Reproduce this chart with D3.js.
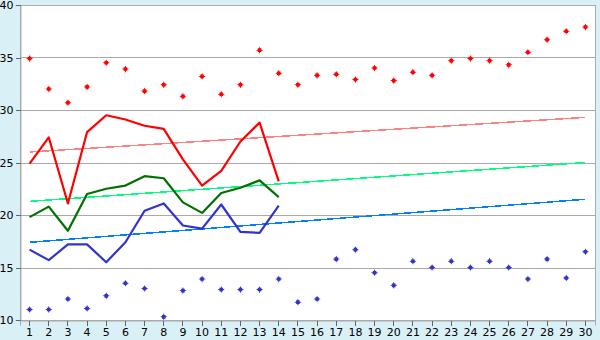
<!DOCTYPE html>
<html>
<head>
<meta charset="utf-8">
<script src="https://cdn.jsdelivr.net/npm/d3@7"></script>
<style>
body { margin: 0; background: #d9f0f7; }
svg { display: block; }
.tick text { font-family: "DejaVu Sans", Verdana, sans-serif; font-size: 11px; fill: #000; }
</style>
</head>
<body>
<svg class="chart"></svg>
<script>
var WIDTH = 600, HEIGHT = 340;
var days = d3.range(1, 31);
var yTicks = [10, 15, 20, 25, 30, 35, 40];

var maxDots = [34.9, 32.0, 30.7, 32.2, 34.5, 33.9, 31.8, 32.4, 31.3, 33.2, 31.5, 32.4, 35.7, 33.5, 32.4,
	33.3, 33.4, 32.9, 34.0, 32.8, 33.6, 33.3, 34.7, 34.9, 34.7, 34.3, 35.5, 36.7, 37.5, 37.9];
var minDots = [11.0, 11.0, 12.0, 11.1, 12.3, 13.5, 13.0, 10.3, 12.8, 13.9, 12.9, 12.9, 12.9, 13.9, 11.7,
	12.0, 15.8, 16.7, 14.5, 13.3, 15.6, 15.0, 15.6, 15.0, 15.6, 15.0, 13.9, 15.8, 14.0, 16.5];
var maxLine = [24.9, 27.4, 21.1, 27.9, 29.5, 29.1, 28.5, 28.2, 25.3, 22.8, 24.2, 27.0, 28.8, 23.2];
var meanLine = [19.8, 20.8, 18.5, 22.0, 22.5, 22.8, 23.7, 23.5, 21.2, 20.2, 22.1, 22.6, 23.3, 21.7];
var minLine = [16.7, 15.7, 17.2, 17.2, 15.5, 17.4, 20.4, 21.1, 19.0, 18.7, 21.0, 18.4, 18.3, 20.9];
var maxTrend = [26.0, 29.3];
var meanTrend = [21.3, 25.0];
var minTrend = [17.4, 21.5];

var svg = d3.select(".chart").attr("width", WIDTH).attr("height", HEIGHT);

var x = d3.scaleBand().domain(days).range([20, 595]);
var y = d3.scaleLinear().domain([10, 40]).range([320, 5]);
var cx = d => x(d) + x.bandwidth() / 2;

svg.append("rect").attr("x", 20).attr("y", 5).attr("width", 575).attr("height", 315)
	.attr("fill", "#fff").attr("stroke", "#aaa").attr("stroke-width", 1).attr("shape-rendering", "crispEdges");

// grid
svg.append("g").selectAll("line").data(yTicks).enter().append("line")
	.attr("x1", 20).attr("x2", 595).attr("y1", d => Math.round(y(d)) + 0.5).attr("y2", d => Math.round(y(d)) + 0.5)
	.attr("stroke", "#aaa").attr("shape-rendering", "crispEdges");

var yAxis = svg.append("g").attr("transform", "translate(20.5,0)")
	.call(d3.axisLeft(y).tickValues(yTicks).tickSize(5).tickPadding(2));
var xAxis = svg.append("g").attr("transform", "translate(0,320.5)")
	.call(d3.axisBottom(x).tickSize(5).tickPadding(3));
[yAxis, xAxis].forEach(a => {
	a.select(".domain").attr("stroke", "#aaa");
	a.selectAll(".tick line").attr("stroke", "#666").attr("shape-rendering", "crispEdges");
});

// trend lines
var trends = [[maxTrend, "#ff8080"], [meanTrend, "#00ff80"], [minTrend, "#0080ff"]];
trends.forEach(t => {
	svg.append("line").attr("x1", cx(1)).attr("x2", cx(30))
		.attr("y1", y(t[0][0])).attr("y2", y(t[0][1]))
		.attr("stroke", t[1]).attr("stroke-width", 1.5).attr("shape-rendering", "crispEdges");
});

var line = d3.line().x((d, i) => cx(days[i])).y(d => y(d));
[[maxLine, "#ff0000"], [meanLine, "#007000"], [minLine, "#3333cc"]].forEach(s => {
	svg.append("path").attr("d", line(s[0])).attr("fill", "none")
		.attr("stroke", s[1]).attr("stroke-width", 2.2).attr("stroke-linejoin", "round");
});

var plus = "M0,-3.6L1,-1L3.6,0L1,1L0,3.6L-1,1L-3.6,0L-1,-1Z M-1.8,-1.8h3.6v3.6h-3.6z";
[[maxDots, "#ff0000"], [minDots, "#3333cc"]].forEach(s => {
	svg.append("g").selectAll("path").data(s[0]).enter().append("path")
		.attr("d", plus).attr("fill", s[1])
		.attr("transform", (d, i) => "translate(" + cx(days[i]) + "," + y(d) + ")");
});
</script>
</body>
</html>
